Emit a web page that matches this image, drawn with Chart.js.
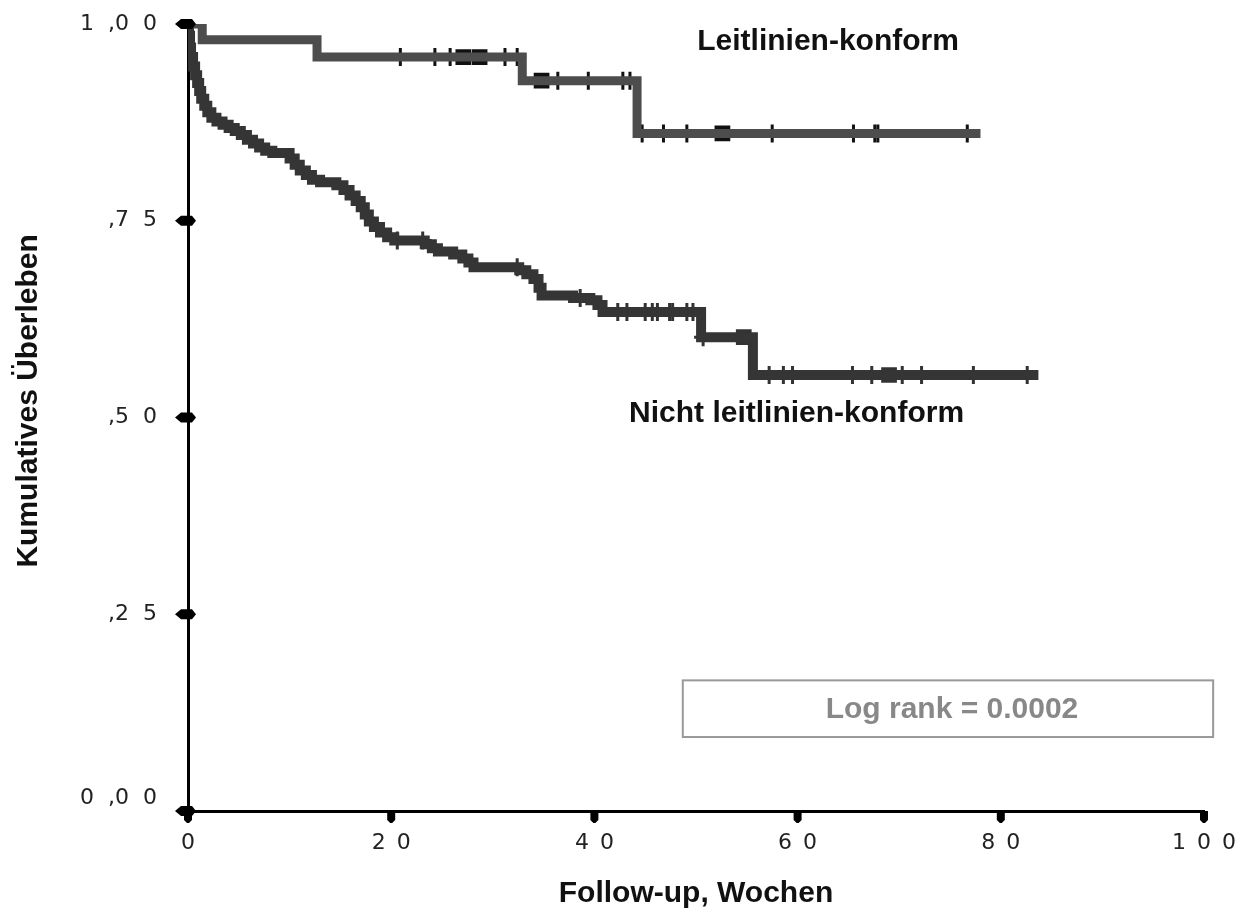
<!DOCTYPE html>
<html lang="de">
<head>
<meta charset="UTF-8">
<title>Kumulatives Überleben</title>
<script src="https://cdn.jsdelivr.net/npm/chart.js@4"></script>
<style>
    body { margin: 0; background: #fff; }
    #wrap { width: 1246px; height: 913px; }
</style>
</head>
<body>
<div id="wrap"><canvas id="km" width="1246" height="913"></canvas></div>
<script>
// Kaplan-Meier: Woche des Ereignisses und Überlebensrate danach
const konformWeeks = [0, 1.4, 12.7, 32.9, 44.2, 78.0];
const konformSurv  = [1.000, 0.980, 0.958, 0.928, 0.861, 0.861];
const konformCensored = [20.9, 24.3, 25.8, 31.2, 32.4, 36.4, 39.4, 42.8, 43.5, 44.7, 46.8, 49.1, 57.5, 65.5, 67.6, 67.9, 76.7];
const konformCensoredTied = [27.1, 28.7, 34.8, 52.6];

const nichtWeeks = [0, 0.1, 0.2, 0.3, 0.5, 0.7, 0.9, 1.1, 1.3, 1.6,
    1.9, 2.3, 2.8, 3.4, 4.0, 4.6, 5.2, 5.8, 6.4, 7.0,
    7.6, 8.3, 10.0, 10.5, 11.0, 11.6, 12.2, 13.0, 14.6, 15.3,
    15.9, 16.5, 17.0, 17.4, 17.8, 18.3, 18.9, 19.6, 20.3, 23.3,
    24.0, 24.6, 26.1, 27.0, 27.6, 28.1, 32.6, 33.3, 34.0, 34.5,
    34.8, 37.9, 39.6, 40.3, 40.8, 50.5, 55.6, 83.7];
const nichtSurv = [1.000, 0.985, 0.970, 0.958, 0.946, 0.935, 0.925, 0.915, 0.905, 0.896,
    0.888, 0.881, 0.876, 0.872, 0.868, 0.864, 0.859, 0.853, 0.848, 0.843,
    0.839, 0.836, 0.829, 0.821, 0.814, 0.808, 0.802, 0.799, 0.795, 0.789,
    0.782, 0.775, 0.767, 0.758, 0.749, 0.742, 0.735, 0.729, 0.725, 0.720,
    0.715, 0.711, 0.707, 0.702, 0.697, 0.691, 0.687, 0.682, 0.676, 0.665,
    0.655, 0.652, 0.649, 0.643, 0.634, 0.602, 0.554, 0.554];
const nichtCensored = [20.6, 23.1, 32.4, 38.6, 42.3, 43.2, 45.0, 45.7, 46.2, 47.4, 47.7, 49.1, 49.7,
    50.7, 57.2, 58.6, 59.5, 65.4, 67.3, 70.3, 72.2, 77.3, 82.6];
const nichtCensoredTied = [54.7, 69.0];

const xTickLabels = ['0', '2 0', '4 0', '6 0', '8 0', '1 0 0'];
const yTickLabels = ['0 ,0 0', ',2 5', ',5 0', ',7 5', '1 ,0 0'];
const logRankText = 'Log rank = 0.0002';

const boldFont = '"Liberation Sans", Arial, sans-serif';
const tickFont = '"DejaVu Sans", Verdana, sans-serif';

// value of the step function at week t
function survivalAt(weeks, surv, t) {
    let s = surv[0];
    for (let i = 0; i < weeks.length; i++) {
        if (weeks[i] <= t) s = surv[i];
    }
    return s;
}

function curve(weeks, surv) {
    return weeks.map((w, i) => ({ x: w, y: surv[i] }));
}

function marks(times, weeks, surv) {
    return times.map(t => ({ x: t, y: survivalAt(weeks, surv, t) }));
}

const lineBase = {
    type: 'line',
    stepped: 'before',
    pointRadius: 0,
    fill: false,
    borderCapStyle: 'butt',
    borderJoinStyle: 'miter'
};

const censorBase = {
    type: 'scatter',
    showLine: false,
    pointStyle: 'cross',
    pointRadius: 9,
    pointBorderWidth: 3
};

// tick marks: small diamonds on the y axis, tabs under the x axis
const axisMarks = {
    id: 'axisMarks',
    afterDraw(chart) {
        const { ctx, chartArea, scales: { x, y } } = chart;
        ctx.save();
        ctx.fillStyle = '#000';
        y.ticks.forEach(t => {
            const py = y.getPixelForValue(t.value);
            const px = chartArea.left - 1;
            ctx.beginPath();
            ctx.moveTo(px - 12, py);
            ctx.lineTo(px - 6, py - 5);
            ctx.lineTo(px + 5, py - 5);
            ctx.lineTo(px + 9, py);
            ctx.lineTo(px + 5, py + 5);
            ctx.lineTo(px - 6, py + 5);
            ctx.closePath();
            ctx.fill();
        });
        x.ticks.forEach(t => {
            const px = x.getPixelForValue(t.value);
            const py = chartArea.bottom;
            ctx.beginPath();
            ctx.moveTo(px - 4, py);
            ctx.lineTo(px + 4, py);
            ctx.lineTo(px + 4, py + 9);
            ctx.lineTo(px + 1, py + 12);
            ctx.lineTo(px - 1, py + 12);
            ctx.lineTo(px - 4, py + 9);
            ctx.closePath();
            ctx.fill();
        });
        ctx.restore();
    }
};

// group labels and the log rank box
const annotate = {
    id: 'annotate',
    afterDraw(chart) {
        const { ctx, scales: { x, y } } = chart;
        ctx.save();
        ctx.font = 'bold 30px ' + boldFont;
        ctx.textAlign = 'center';
        ctx.textBaseline = 'middle';
        ctx.fillStyle = '#111';
        ctx.fillText('Leitlinien-konform', x.getPixelForValue(63.0), y.getPixelForValue(0.978));
        ctx.fillText('Nicht leitlinien-konform', x.getPixelForValue(59.9), y.getPixelForValue(0.505));

        const bx0 = x.getPixelForValue(48.7), bx1 = x.getPixelForValue(100.9);
        const by0 = y.getPixelForValue(0.166), by1 = y.getPixelForValue(0.094);
        ctx.strokeStyle = '#999';
        ctx.lineWidth = 2;
        ctx.strokeRect(bx0, by0, bx1 - bx0, by1 - by0);
        ctx.fillStyle = '#888';
        ctx.fillText(logRankText, (bx0 + bx1) / 2 + 4, (by0 + by1) / 2 + 1);
        ctx.restore();
    }
};

new Chart(document.getElementById('km'), {
    data: {
        datasets: [
            { ...lineBase, data: curve(nichtWeeks, nichtSurv), borderColor: '#353535', borderWidth: 10 },
            { ...censorBase, data: marks(nichtCensored, nichtWeeks, nichtSurv), borderColor: '#333', backgroundColor: '#333' },
            { ...censorBase, pointStyle: 'rect', data: marks(nichtCensoredTied, nichtWeeks, nichtSurv), borderColor: '#333', backgroundColor: '#333' },
            { ...lineBase, data: curve(konformWeeks, konformSurv), borderColor: '#4d4d4d', borderWidth: 9 },
            { ...censorBase, data: marks(konformCensored, konformWeeks, konformSurv), borderColor: '#111', backgroundColor: '#111' },
            { ...censorBase, pointStyle: 'rect', data: marks(konformCensoredTied, konformWeeks, konformSurv), borderColor: '#111', backgroundColor: '#111' }
        ]
    },
    options: {
        responsive: false,
        animation: false,
        layout: { padding: { top: 24, right: 42, left: 0, bottom: 0 } },
        plugins: { legend: { display: false }, tooltip: { enabled: false } },
        scales: {
            x: {
                type: 'linear',
                min: 0,
                max: 100,
                grid: { display: false, drawTicks: false },
                border: { display: true, color: '#000', width: 3 },
                ticks: {
                    stepSize: 20,
                    padding: 19,
                    color: '#222',
                    font: { family: tickFont, size: 22 },
                    callback: (v, i) => xTickLabels[i].replace(/ /g, '\u2002')
                },
                title: {
                    display: true,
                    text: 'Follow-up, Wochen',
                    color: '#111',
                    font: { family: boldFont, size: 30, weight: 'bold' },
                    padding: { top: 0, bottom: 1 }
                },
                afterFit: s => {
                    s.height = 102;
                    s.paddingLeft = 0;
                    s.paddingRight = 0;
                }
            },
            y: {
                type: 'linear',
                min: 0,
                max: 1,
                grid: { display: false, drawTicks: false },
                border: { display: true, color: '#000', width: 3 },
                ticks: {
                    stepSize: 0.25,
                    padding: 31,
                    color: '#222',
                    font: { family: tickFont, size: 22 },
                    // the zero label sits a little above its tick
                    callback: (v, i) => {
                        const label = yTickLabels[i].replace(/ /g, '\u2007');
                        return i === 0 ? [label, ''] : label;
                    }
                },
                title: {
                    display: true,
                    text: '    Kumulatives Überleben',
                    color: '#111',
                    font: { family: boldFont, size: 30, weight: 'bold' },
                    padding: { top: 11, bottom: 0 }
                },
                afterFit: s => {
                    s.width = 188;
                    s.paddingTop = 0;
                    s.paddingBottom = 0;
                }
            }
        }
    },
    plugins: [axisMarks, annotate]
});
</script>
</body>
</html>
